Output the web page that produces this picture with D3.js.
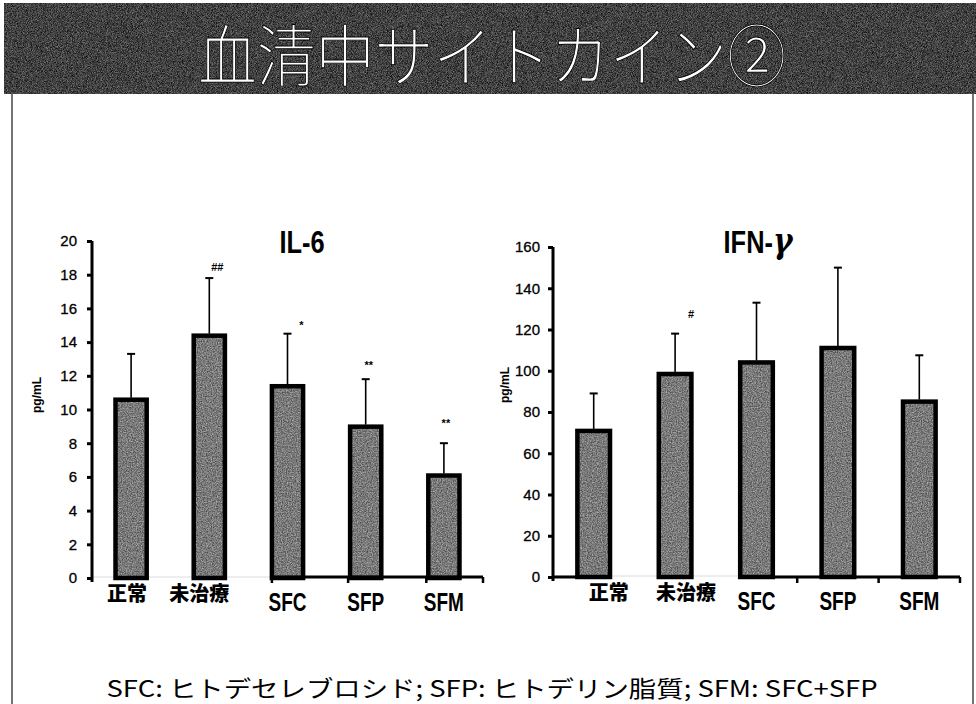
<!DOCTYPE html>
<html><head><meta charset="utf-8">
<script src="https://cdn.jsdelivr.net/npm/d3@7/dist/d3.min.js"></script>
<style>
html,body{margin:0;padding:0;background:#fff;}
svg{display:block;}
</style></head>
<body>
<script>
// ---- data ----
const categories = ["正常", "未治療", "SFC", "SFP", "SFM"];
const il6Means = [10.7, 14.5, 11.5, 9.1, 6.2];
const il6SD = [2.6, 3.3, 3.0, 2.7, 1.8];
const il6Marks = ["", "##", "*", "**", "**"];
const il6Ticks = [0, 2, 4, 6, 8, 10, 12, 14, 16, 18, 20];

const ifnMeans = [71.8, 99.4, 105, 112, 86];
const ifnSD = [17.2, 18.6, 28, 38, 21.5];
const ifnMarks = ["", "#", "", "", ""];
const ifnTicks = [0, 20, 40, 60, 80, 100, 120, 140, 160];

const pageTitle = "血清中サイトカイン②";
const footnote = "SFC: ヒトデセレブロシド; SFP: ヒトデリン脂質; SFM: SFC+SFP";
const unitLabel = "pg/mL";

// ---- layout ----
const W = 976, H = 704;
const svg = d3.select("body").append("svg").attr("width", W).attr("height", H);
const defs = svg.append("defs");

function noiseFilter(id, freq, seed) {
  const f = defs.append("filter").attr("id", id)
    .attr("color-interpolation-filters", "sRGB")
    .attr("x", 0).attr("y", 0).attr("width", 1).attr("height", 1);
  f.append("feTurbulence").attr("type", "fractalNoise").attr("baseFrequency", freq)
    .attr("numOctaves", 2).attr("seed", seed).attr("result", "n");
  f.append("feColorMatrix").attr("in", "n").attr("type", "matrix")
    .attr("values", "1.6 0 0 0 -0.3  1.6 0 0 0 -0.3  1.6 0 0 0 -0.3  0 0 0 0 1").attr("result", "g");
  f.append("feComposite").attr("in", "g").attr("in2", "SourceGraphic").attr("operator", "in");
}
noiseFilter("hdrNoise", 1.2, 3);
noiseFilter("barNoise", 0.8, 5);

// header band
svg.append("rect").attr("x", 4).attr("y", 3).attr("width", W - 4).attr("height", 91).attr("fill", "#141414");
svg.append("rect").attr("x", 4).attr("y", 3).attr("width", W - 4).attr("height", 91)
  .attr("fill", "#fff").attr("filter", "url(#hdrNoise)").attr("opacity", 0.42);
svg.append("text").attr("transform", "translate(492,81) scale(0.98,1.12)").attr("text-anchor", "middle")
  .attr("font-family", "'Noto Sans CJK JP', sans-serif").attr("font-weight", 300)
  .attr("font-size", 60).attr("fill", "#fff")
  .attr("stroke", "#000").attr("stroke-width", 0.8)
  .text(pageTitle);

// slide borders
svg.append("line").attr("x1", 12).attr("x2", 12).attr("y1", 94).attr("y2", H).attr("stroke", "#444").attr("stroke-width", 1.5);
svg.append("line").attr("x1", 973).attr("x2", 973).attr("y1", 94).attr("y2", H).attr("stroke", "#444").attr("stroke-width", 1.5);

const sans = "'Liberation Sans', Arial, sans-serif";
const jp = "'Noto Sans CJK JP', sans-serif";

function narrowText(parent, x, y, str, size, sx) {
  return parent.append("text")
    .attr("transform", `translate(${x},${y}) scale(${sx},1)`)
    .attr("text-anchor", "middle").attr("font-family", sans).attr("font-weight", "bold")
    .attr("font-size", size).text(str);
}

function drawChart(opt) {
  const g = svg.append("g");
  const x = d3.scaleBand().domain(categories).range(opt.xRange)
    .paddingInner(opt.padIn).paddingOuter(opt.padIn / 2);
  const y = d3.scaleLinear().domain([0, opt.ticks[opt.ticks.length - 1]]).range(opt.yRange);
  const y0 = y(0);

  g.append("line").attr("x1", opt.xRange[0]).attr("x2", opt.xRange[1])
    .attr("y1", y0 - 1).attr("y2", y0 - 1).attr("stroke", "#dcdcdc").attr("stroke-width", 1);

  const bw = x.bandwidth();
  const bars = g.append("g");
  opt.means.forEach((m, i) => {
    const c = categories[i];
    const bx = x(c) + 2, by = y(m) + 2, bwid = bw - 4, bh = y0 - y(m) - 2;
    bars.append("rect").attr("x", bx).attr("y", by).attr("width", bwid).attr("height", bh)
      .attr("fill", "#767676");
    bars.append("rect").attr("x", bx).attr("y", by).attr("width", bwid).attr("height", bh)
      .attr("fill", "#fff").attr("filter", "url(#barNoise)").attr("opacity", 0.4);
    bars.append("rect").attr("x", bx).attr("y", by).attr("width", bwid).attr("height", bh)
      .attr("fill", "none").attr("stroke", "#000").attr("stroke-width", 4.5);
  });

  opt.means.forEach((m, i) => {
    const cx = x(categories[i]) + bw / 2;
    const top = y(m + opt.sd[i]);
    g.append("line").attr("x1", cx).attr("x2", cx).attr("y1", y(m)).attr("y2", top)
      .attr("stroke", "#000").attr("stroke-width", 1.6);
    g.append("line").attr("x1", cx - 4).attr("x2", cx + 4).attr("y1", top).attr("y2", top)
      .attr("stroke", "#000").attr("stroke-width", 2);
    if (opt.marks[i]) {
      g.append("text").attr("x", cx + opt.markDx[i]).attr("y", top + opt.markDy[i])
        .attr("text-anchor", "middle").attr("font-family", sans)
        .attr("font-size", 11).attr("font-weight", "bold").text(opt.marks[i]);
    }
  });

  const ax = g.append("g").attr("transform", `translate(${opt.xRange[0]},0)`)
    .call(d3.axisLeft(y).tickValues(opt.ticks).tickSize(5).tickSizeOuter(0).tickPadding(opt.tickPad));
  ax.select(".domain").attr("stroke-width", 3).attr("d", `M0,${opt.yRange[1]}V${y0 + 4}`);
  ax.selectAll(".tick line").attr("stroke-width", 3);
  ax.selectAll(".tick text").attr("font-family", sans)
    .attr("font-size", 15).attr("fill", "#000").attr("stroke", "#000").attr("stroke-width", 0.3);

  categories.forEach((c, i) => {
    const cx = x(c) + bw / 2;
    if (i < 2) {
      g.append("text").attr("x", cx + opt.jpDx[i]).attr("y", y0 + 23)
        .attr("text-anchor", "middle").attr("font-family", jp).attr("font-weight", 900)
        .attr("font-size", 20).text(c);
    } else {
      narrowText(g, cx, y0 + 33, c, 25, 0.76);
    }
  });

  g.append("text").attr("transform", `translate(${opt.unitX},${opt.unitY}) rotate(-90)`)
    .attr("text-anchor", "middle").attr("font-family", sans)
    .attr("font-weight", "bold").attr("font-size", 12).text(unitLabel);

  const t = g.append("text").attr("transform", `translate(${opt.titleX},253) scale(0.82,1)`)
    .attr("text-anchor", "middle").attr("font-family", sans).attr("font-weight", "bold").attr("font-size", 31);
  t.append("tspan").text(opt.title);
  if (opt.titleGreek) t.append("tspan").attr("font-family", "'DejaVu Serif', serif")
    .attr("font-style", "italic").attr("font-size", 36).text(opt.titleGreek);

  return {x, y};
}

// IL-6
const c1 = drawChart({
  xRange: [92, 483], yRange: [578, 241], padIn: 0.55,
  means: il6Means, sd: il6SD, marks: il6Marks, ticks: il6Ticks,
  markDx: [0, 8, 14, 3, 2], markDy: [0, -7, -5, -10, -16],
  tickPad: 10, jpDx: [-4, -10],
  unitX: 41, unitY: 395, title: "IL-6", titleX: 302
});
{
  const x = c1.x, y0 = c1.y(0);
  const a = x("SFC") + 2;
  svg.append("line").attr("x1", a).attr("x2", 483).attr("y1", y0 - 1).attr("y2", y0 - 1)
    .attr("stroke", "#000").attr("stroke-width", 3);
  [a, x("SFP"), x("SFM"), 483].forEach(t => svg.append("line").attr("x1", t).attr("x2", t)
    .attr("y1", y0 - 1).attr("y2", y0 + 5).attr("stroke", "#000").attr("stroke-width", 2.5));
}

// IFN-γ
const c2 = drawChart({
  xRange: [553, 960], yRange: [577, 247], padIn: 0.55,
  means: ifnMeans, sd: ifnSD, marks: ifnMarks, ticks: ifnTicks,
  markDx: [0, 16, 0, 0, 0], markDy: [0, -16, 0, 0, 0],
  tickPad: 8, jpDx: [15, 11],
  unitX: 509, unitY: 385, title: "IFN-", titleGreek: "γ", titleX: 758
});
{
  const x = c2.x, y0 = c2.y(0), bw = x.bandwidth();
  svg.append("line").attr("x1", 553).attr("x2", x("正常") + 2).attr("y1", y0).attr("y2", y0)
    .attr("stroke", "#000").attr("stroke-width", 3);
  const a = x("SFC") + 2;
  svg.append("line").attr("x1", a).attr("x2", 960).attr("y1", y0).attr("y2", y0)
    .attr("stroke", "#000").attr("stroke-width", 3);
  [x("SFP") - (x.step() - bw) / 2, x("SFM") - (x.step() - bw) / 2, 960].forEach(t => svg.append("line")
    .attr("x1", t).attr("x2", t).attr("y1", y0).attr("y2", y0 + 6).attr("stroke", "#000").attr("stroke-width", 2.5));
}

// footnote
svg.append("text").attr("x", 492).attr("y", 697).attr("text-anchor", "middle")
  .attr("font-family", jp).attr("font-size", 23).attr("fill", "#000")
  .attr("textLength", 771).attr("lengthAdjust", "spacingAndGlyphs")
  .text(footnote);
</script>
</body></html>
